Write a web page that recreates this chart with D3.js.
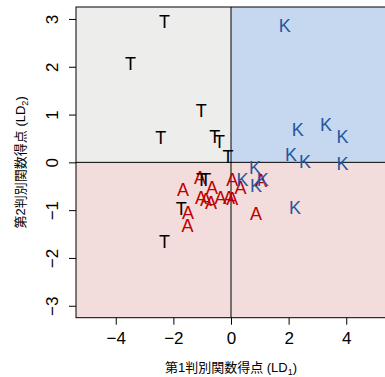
<!DOCTYPE html>
<html>
<head>
<meta charset="utf-8">
<script src="https://cdn.jsdelivr.net/npm/d3@7/dist/d3.min.js"></script>
<style>
  html, body { margin: 0; padding: 0; background: #ffffff; }
  svg { display: block; }
  text { font-family: "Liberation Sans", Arial, "Noto Sans CJK JP", sans-serif; }
</style>
</head>
<body>
<svg id="chart" width="385" height="377"></svg>
<script>
// Discriminant scores (LD1, LD2) for the three groups
const groupA_ld1 = [-1.67, -1.08, -1.04, -0.87, -0.69, -0.66, -0.36, -0.07, 0.04, 0.04, 0.33, 1.04, 0.87, -1.49, -1.51];
const groupA_ld2 = [-0.56, -0.31, -0.73, -0.78, -0.85, -0.53, -0.74, -0.74, -0.75, -0.36, -0.53, -0.38, -1.08, -1.05, -1.33];

const groupT_ld1 = [-2.31, -3.49, -1.03, -2.44, -0.56, -0.40, -0.10, -1.02, -0.88, -1.73, -2.31];
const groupT_ld2 = [2.95, 2.06, 1.09, 0.51, 0.53, 0.44, 0.12, -0.37, -0.37, -0.96, -1.65];

const groupK_ld1 = [1.87, 2.32, 3.30, 3.87, 2.08, 2.57, 3.87, 0.83, 0.40, 1.10, 0.87, 2.22];
const groupK_ld2 = [2.86, 0.68, 0.80, 0.53, 0.17, 0.01, -0.02, -0.10, -0.35, -0.35, -0.48, -0.94];

const xTicks = [-4, -2, 0, 2, 4];
const yTicks = [-3, -2, -1, 0, 1, 2, 3];

const groups = [
  { label: "A", color: "#c00000", xs: groupA_ld1, ys: groupA_ld2 },
  { label: "T", color: "#000000", xs: groupT_ld1, ys: groupT_ld2 },
  { label: "K", color: "#24579e", xs: groupK_ld1, ys: groupK_ld2 }
];

const svg = d3.select("#chart");
const plot = { left: 76, right: 386, top: 7, bottom: 317.7 };

const x = d3.scaleLinear().domain([-5.38, 5.38]).range([plot.left, plot.right]);
const y = d3.scaleLinear().domain([-3.25, 3.25]).range([plot.bottom, plot.top]);

// Region shading: upper-left, upper-right, lower half
const [x0, x1] = x.domain();
const [y0, y1] = y.domain();
const regions = [
  { xa: x0, xb: 0, ya: 0, yb: y1, fill: "#ededeb" },
  { xa: 0, xb: x1, ya: 0, yb: y1, fill: "#c6d8f0" },
  { xa: x0, xb: x1, ya: y0, yb: 0, fill: "#f2dcdc" }
];
svg.append("g").selectAll("rect").data(regions).join("rect")
  .attr("x", d => x(d.xa))
  .attr("y", d => y(d.yb))
  .attr("width", d => x(d.xb) - x(d.xa))
  .attr("height", d => y(d.ya) - y(d.yb))
  .attr("fill", d => d.fill);

// Reference lines at zero
svg.append("line")
  .attr("x1", x(x0)).attr("x2", x(x1))
  .attr("y1", y(0)).attr("y2", y(0))
  .attr("stroke", "#000").attr("stroke-width", 1);
svg.append("line")
  .attr("x1", x(0)).attr("x2", x(0))
  .attr("y1", y(y0)).attr("y2", y(y1))
  .attr("stroke", "#000").attr("stroke-width", 1);

// Group labels at each observation
const fs = 18;
groups.forEach(g => {
  const pts = g.xs.map((v, i) => [v, g.ys[i]]);
  svg.append("g").selectAll("text").data(pts).join("text")
    .attr("x", d => x(d[0]))
    .attr("y", d => y(d[1]) + fs * 0.358)
    .attr("text-anchor", "middle")
    .attr("font-size", fs)
    .attr("fill", g.color)
    .text(g.label);
});

// Plot frame
svg.append("rect")
  .attr("x", plot.left).attr("y", plot.top)
  .attr("width", plot.right - plot.left).attr("height", plot.bottom - plot.top)
  .attr("fill", "none").attr("stroke", "#000").attr("stroke-width", 1);

// Axes
const tickFs = 17;
const xAxis = svg.append("g")
  .attr("transform", `translate(0,${plot.bottom})`)
  .call(d3.axisBottom(x).tickValues(xTicks).tickSize(7).tickPadding(0).tickFormat(d3.format("d")));
xAxis.select(".domain").remove();
xAxis.selectAll("text").attr("font-size", tickFs).attr("fill", "#000")
  .attr("dy", null).attr("y", 26);
xAxis.selectAll("line").attr("stroke", "#000");

const yAxis = svg.append("g")
  .attr("transform", `translate(${plot.left},0)`)
  .call(d3.axisLeft(y).tickValues(yTicks).tickSize(7).tickPadding(0).tickFormat(d3.format("d")));
yAxis.select(".domain").remove();
yAxis.selectAll("line").attr("stroke", "#000");
yAxis.selectAll("text")
  .attr("font-size", tickFs).attr("fill", "#000")
  .attr("x", null).attr("dy", null)
  .attr("text-anchor", "middle")
  .attr("transform", "translate(-18,0) rotate(-90)");

// Axis titles
const xt = svg.append("text")
  .attr("x", (plot.left + plot.right) / 2)
  .attr("y", 372)
  .attr("text-anchor", "middle")
  .attr("font-size", 13)
  .attr("fill", "#000");
xt.append("tspan").text("第1判別関数得点 (LD");
xt.append("tspan").attr("font-size", 9).attr("dy", 3).text("1");
xt.append("tspan").attr("dy", -3).text(")");

const yt = svg.append("text")
  .attr("transform", `translate(25,${(plot.top + plot.bottom) / 2}) rotate(-90)`)
  .attr("text-anchor", "middle")
  .attr("font-size", 13)
  .attr("fill", "#000");
yt.append("tspan").text("第2判別関数得点 (LD");
yt.append("tspan").attr("font-size", 9).attr("dy", 3).text("2");
yt.append("tspan").attr("dy", -3).text(")");
</script>
</body>
</html>
